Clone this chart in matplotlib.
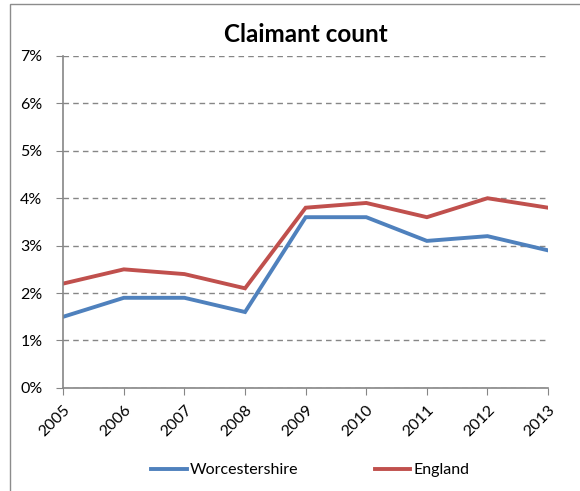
import matplotlib.pyplot as plt
from matplotlib.patches import Rectangle
from matplotlib.ticker import FuncFormatter

years = ['2005', '2006', '2007', '2008', '2009', '2010', '2011', '2012', '2013']
worcestershire = [1.5, 1.9, 1.9, 1.6, 3.6, 3.6, 3.1, 3.2, 2.9]
england = [2.2, 2.5, 2.4, 2.1, 3.8, 3.9, 3.6, 4.0, 3.8]

plt.rcParams['font.family'] = ['Lato', 'DejaVu Sans']

fig = plt.figure(figsize=(5.8, 4.91), dpi=100)
ax = fig.add_axes([0.109, 0.21, 0.836, 0.676])

x = range(len(years))
ax.plot(x, worcestershire, color='#4F81BD', lw=2.8, label='Worcestershire', solid_joinstyle='miter')
ax.plot(x, england, color='#C0504D', lw=2.8, label='England', solid_joinstyle='miter')

ax.set_xlim(0, len(years) - 1)
ax.set_ylim(0, 7)
ax.set_yticks(range(0, 8))
ax.yaxis.set_major_formatter(FuncFormatter(lambda v, p: '%d%%' % v))
ax.set_xticks(list(x))
ax.set_xticklabels(years, rotation=45, ha='right', rotation_mode='anchor')

ax.grid(axis='y', color='#868686', ls=(0, (4, 3)), lw=1)
for s in ['top', 'right']:
    ax.spines[s].set_visible(False)
for s in ['left', 'bottom']:
    ax.spines[s].set_color('#868686')
    ax.spines[s].set_linewidth(1.2)
ax.tick_params(axis='both', colors='#868686', labelcolor='black', labelsize=11.5, length=5)
ax.tick_params(axis='y', pad=10)
ax.tick_params(axis='x', pad=6)

ax.set_title('Claimant count', fontsize=17.5, fontweight='bold', pad=10)

ax.legend(loc='center', bbox_to_anchor=(0.535, 0.042), bbox_transform=fig.transFigure,
          ncol=2, frameon=False, fontsize=11.5, handlelength=2.2, handletextpad=0.2,
          columnspacing=4.8)

fig.add_artist(Rectangle((10 / 580, -0.1), 1.2, 1.1 - 4 / 491, transform=fig.transFigure,
                         fill=False, ec='#8c8c8c', lw=1, clip_on=False))

fig.savefig('out.png', dpi=100)
